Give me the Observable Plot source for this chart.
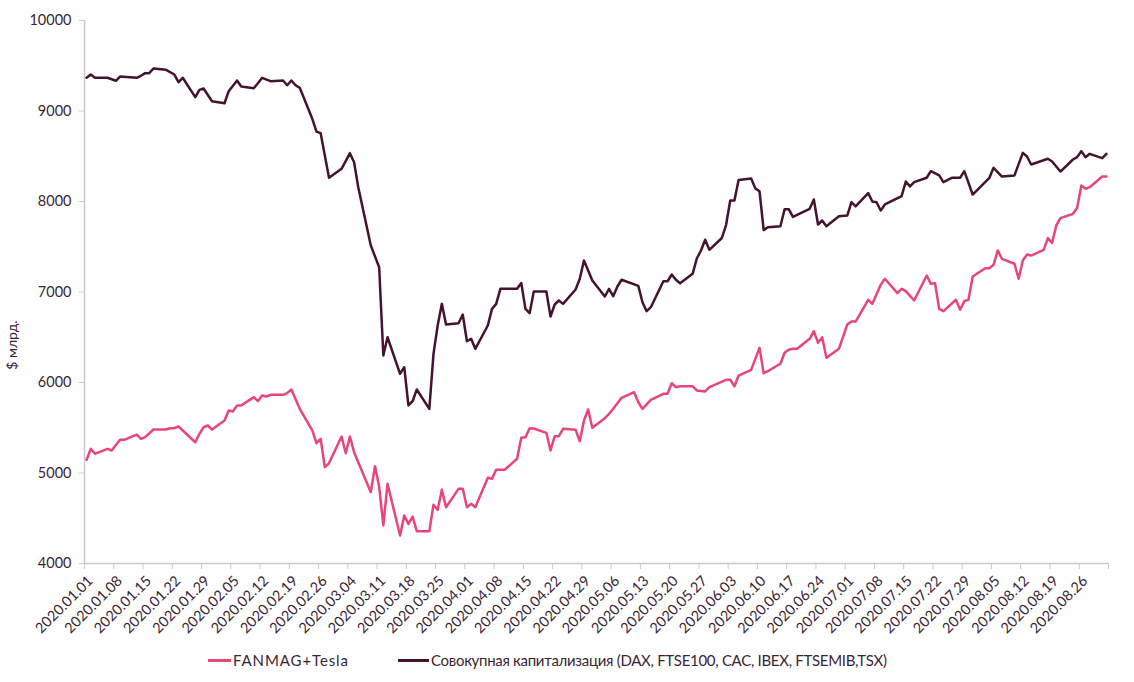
<!DOCTYPE html>
<html>
<head>
<meta charset="utf-8">
<script src="https://cdn.jsdelivr.net/npm/d3@7"></script>
<script src="https://cdn.jsdelivr.net/npm/@observablehq/plot@0.6"></script>
<style>
  body { margin: 0; background: #fff; }
  #legend { position: relative; height: 37px; font-family: Lato, "Noto Sans", sans-serif; font-size: 15px; color: #3d1f36; }
  .item { position: absolute; top: 4px; display: flex; align-items: center; height: 22px; white-space: nowrap; }
  .sw { display: inline-block; height: 3px; margin-right: 2px; }
</style>
</head>
<body>
<div id="chart"></div>
<div id="legend">
  <div class="item" style="left:208px"><span class="sw" style="width:23px;background:#e8457a"></span><span style="letter-spacing:0.9px">FANMAG+Tesla</span></div>
  <div class="item" style="left:398px"><span class="sw" style="width:31px;background:#45122f"></span><span style="letter-spacing:-0.3px">Совокупная капитализация (DAX, FTSE100, CAC, IBEX, FTSEMIB,TSX)</span></div>
</div>
<script>
const tickLabels = ["2020.01.01","2020.01.08","2020.01.15","2020.01.22","2020.01.29","2020.02.05","2020.02.12","2020.02.19","2020.02.26","2020.03.04","2020.03.11","2020.03.18","2020.03.25","2020.04.01","2020.04.08","2020.04.15","2020.04.22","2020.04.29","2020.05.06","2020.05.13","2020.05.20","2020.05.27","2020.06.03","2020.06.10","2020.06.17","2020.06.24","2020.07.01","2020.07.08","2020.07.15","2020.07.22","2020.07.29","2020.08.05","2020.08.12","2020.08.19","2020.08.26"];
const axisEnd = "2020.09.02";
const yTicks = [4000, 5000, 6000, 7000, 8000, 9000, 10000];
const yLabel = "$ млрд.";

const fanDates = ["2020-01-01","2020-01-02","2020-01-03","2020-01-06","2020-01-07","2020-01-09","2020-01-10","2020-01-13","2020-01-14","2020-01-15","2020-01-17","2020-01-20","2020-01-21","2020-01-22","2020-01-23","2020-01-27","2020-01-28","2020-01-29","2020-01-30","2020-01-31","2020-02-03","2020-02-04","2020-02-05","2020-02-06","2020-02-07","2020-02-10","2020-02-11","2020-02-12","2020-02-13","2020-02-14","2020-02-17","2020-02-18","2020-02-19","2020-02-21","2020-02-24","2020-02-25","2020-02-26","2020-02-27","2020-02-28","2020-03-02","2020-03-03","2020-03-04","2020-03-05","2020-03-09","2020-03-10","2020-03-11","2020-03-12","2020-03-13","2020-03-16","2020-03-17","2020-03-18","2020-03-19","2020-03-20","2020-03-23","2020-03-24","2020-03-25","2020-03-26","2020-03-27","2020-03-30","2020-03-31","2020-04-01","2020-04-02","2020-04-03","2020-04-06","2020-04-07","2020-04-08","2020-04-10","2020-04-13","2020-04-14","2020-04-15","2020-04-16","2020-04-17","2020-04-20","2020-04-21","2020-04-22","2020-04-23","2020-04-24","2020-04-27","2020-04-28","2020-04-29","2020-04-30","2020-05-01","2020-05-04","2020-05-05","2020-05-06","2020-05-08","2020-05-11","2020-05-12","2020-05-13","2020-05-15","2020-05-18","2020-05-19","2020-05-20","2020-05-21","2020-05-22","2020-05-25","2020-05-26","2020-05-28","2020-05-29","2020-06-02","2020-06-03","2020-06-04","2020-06-05","2020-06-08","2020-06-10","2020-06-11","2020-06-12","2020-06-15","2020-06-16","2020-06-17","2020-06-18","2020-06-19","2020-06-22","2020-06-23","2020-06-24","2020-06-25","2020-06-26","2020-06-29","2020-07-01","2020-07-02","2020-07-03","2020-07-06","2020-07-07","2020-07-09","2020-07-10","2020-07-13","2020-07-14","2020-07-15","2020-07-17","2020-07-20","2020-07-21","2020-07-22","2020-07-23","2020-07-24","2020-07-27","2020-07-28","2020-07-29","2020-07-30","2020-07-31","2020-08-03","2020-08-04","2020-08-05","2020-08-06","2020-08-07","2020-08-10","2020-08-11","2020-08-12","2020-08-13","2020-08-14","2020-08-17","2020-08-18","2020-08-19","2020-08-20","2020-08-21","2020-08-24","2020-08-25","2020-08-26","2020-08-27","2020-08-28","2020-08-31","2020-09-01"];
const fanValues = [5146,5267,5212,5267,5249,5367,5367,5425,5378,5396,5481,5481,5495,5495,5514,5340,5433,5506,5525,5481,5580,5691,5680,5746,5746,5838,5794,5856,5845,5864,5864,5882,5923,5709,5470,5329,5378,5064,5108,5403,5219,5403,5230,4788,5075,4850,4420,4881,4310,4530,4438,4519,4357,4357,4649,4593,4814,4622,4825,4825,4622,4660,4622,4947,4936,5035,5035,5157,5390,5396,5495,5492,5444,5249,5407,5407,5488,5477,5351,5580,5702,5499,5606,5654,5709,5831,5893,5782,5709,5809,5875,5875,5992,5948,5959,5959,5912,5901,5948,6030,6030,5959,6077,6140,6383,6103,6125,6207,6328,6361,6372,6372,6483,6567,6439,6500,6273,6372,6641,6674,6674,6914,6870,7079,7146,6987,7035,7009,6906,7182,7090,7097,6814,6788,6914,6803,6899,6914,7171,7263,7263,7300,7459,7367,7312,7146,7348,7414,7403,7466,7595,7543,7735,7816,7864,7930,8177,8140,8158,8276,8276];

const capDates = ["2020-01-01","2020-01-02","2020-01-03","2020-01-06","2020-01-08","2020-01-09","2020-01-13","2020-01-14","2020-01-15","2020-01-16","2020-01-17","2020-01-20","2020-01-22","2020-01-23","2020-01-24","2020-01-27","2020-01-28","2020-01-29","2020-01-31","2020-02-03","2020-02-04","2020-02-06","2020-02-07","2020-02-10","2020-02-11","2020-02-12","2020-02-14","2020-02-17","2020-02-18","2020-02-19","2020-02-20","2020-02-21","2020-02-24","2020-02-25","2020-02-26","2020-02-28","2020-03-02","2020-03-04","2020-03-05","2020-03-06","2020-03-09","2020-03-11","2020-03-12","2020-03-13","2020-03-16","2020-03-17","2020-03-18","2020-03-19","2020-03-20","2020-03-23","2020-03-24","2020-03-25","2020-03-26","2020-03-27","2020-03-30","2020-03-31","2020-04-01","2020-04-02","2020-04-03","2020-04-06","2020-04-07","2020-04-08","2020-04-09","2020-04-13","2020-04-14","2020-04-15","2020-04-16","2020-04-17","2020-04-20","2020-04-21","2020-04-22","2020-04-23","2020-04-24","2020-04-27","2020-04-28","2020-04-29","2020-05-01","2020-05-04","2020-05-05","2020-05-06","2020-05-07","2020-05-08","2020-05-12","2020-05-13","2020-05-14","2020-05-15","2020-05-18","2020-05-19","2020-05-20","2020-05-21","2020-05-22","2020-05-25","2020-05-26","2020-05-27","2020-05-28","2020-05-29","2020-06-01","2020-06-02","2020-06-03","2020-06-04","2020-06-05","2020-06-08","2020-06-09","2020-06-10","2020-06-11","2020-06-12","2020-06-15","2020-06-16","2020-06-17","2020-06-18","2020-06-22","2020-06-23","2020-06-24","2020-06-25","2020-06-26","2020-06-29","2020-07-01","2020-07-02","2020-07-03","2020-07-06","2020-07-07","2020-07-08","2020-07-09","2020-07-10","2020-07-14","2020-07-15","2020-07-16","2020-07-17","2020-07-20","2020-07-21","2020-07-23","2020-07-24","2020-07-26","2020-07-28","2020-07-29","2020-07-31","2020-08-04","2020-08-05","2020-08-07","2020-08-10","2020-08-12","2020-08-13","2020-08-14","2020-08-18","2020-08-19","2020-08-21","2020-08-24","2020-08-25","2020-08-26","2020-08-27","2020-08-28","2020-08-31","2020-09-01"];
const capValues = [9367,9403,9367,9367,9334,9381,9367,9389,9418,9418,9470,9455,9403,9318,9367,9153,9234,9249,9108,9086,9219,9337,9271,9252,9307,9367,9330,9337,9285,9337,9285,9256,8914,8773,8755,8262,8361,8534,8434,8158,7514,7274,6298,6500,6096,6169,5746,5793,5923,5709,6317,6630,6869,6641,6655,6751,6456,6483,6372,6630,6814,6869,7035,7035,7100,6814,6766,7006,7006,6729,6862,6906,6869,7028,7146,7348,7127,6950,7035,6953,7061,7135,7068,6887,6788,6832,7119,7119,7193,7135,7097,7201,7370,7459,7577,7466,7597,7740,8011,8011,8238,8255,8145,8114,7684,7716,7727,7915,7915,7830,7919,8022,7746,7790,7727,7838,7845,7992,7945,8092,8000,7992,7901,7967,8059,8221,8166,8214,8262,8335,8288,8214,8262,8262,8335,8077,8262,8372,8276,8288,8538,8497,8409,8472,8442,8331,8464,8490,8556,8490,8527,8479,8527];

const parseDay = d3.utcParse("%Y-%m-%d");
const parseTick = d3.utcParse("%Y.%m.%d");
const halfDay = 12 * 3600 * 1000;
const toRows = (dates, values) => dates.map((d, i) => ({date: new Date(+parseDay(d) + halfDay), value: values[i]}));
const fanData = toRows(fanDates, fanValues);
const capData = toRows(capDates, capValues);

const tickDates = tickLabels.map(parseTick).concat([parseTick(axisEnd)]);
const labelOf = new Map(tickLabels.map(t => [+parseTick(t), t]));

const ink = "#3d1f36";
const axisGray = "#c9c9c9";
const x0 = parseTick(tickLabels[0]);
const x1 = parseTick(axisEnd);

const chart = Plot.plot({
  width: 1134,
  height: 645,
  marginLeft: 84,
  marginRight: 26,
  marginTop: 20,
  marginBottom: 82,
  style: {fontFamily: "Lato, 'Noto Sans', sans-serif", background: "#fff"},
  x: {type: "utc", domain: [x0, x1]},
  y: {domain: [4000, 10000]},
  marks: [
    Plot.ruleX([x0], {stroke: axisGray, strokeWidth: 1.5}),
    Plot.ruleY([4000], {stroke: axisGray, strokeWidth: 1.5}),
    Plot.axisY({
      ticks: yTicks, tickFormat: d => String(d), tickSize: 5, stroke: axisGray,
      fill: ink, fontSize: 14.5, tickPadding: 8, label: null
    }),
    Plot.text([yLabel], {
      frameAnchor: "left", dx: -72, dy: 53, rotate: -90, textAnchor: "middle",
      fill: ink, fontSize: 14
    }),
    Plot.axisX({
      ticks: tickDates, tickFormat: () => "", tickSize: 6, stroke: axisGray, label: null
    }),
    Plot.axisX({
      ticks: tickLabels.map(parseTick), tickFormat: d => labelOf.get(+d), tickSize: 0,
      fill: ink, fontSize: 14.5, tickRotate: -45, tickPadding: 11, dx: 6, dy: 4, label: null
    }),
    Plot.line(fanData, {x: "date", y: "value", stroke: "#e8457a", strokeWidth: 2.5}),
    Plot.line(capData, {x: "date", y: "value", stroke: "#45122f", strokeWidth: 2.5})
  ]
});
document.getElementById("chart").appendChild(chart);
</script>
</body>
</html>
